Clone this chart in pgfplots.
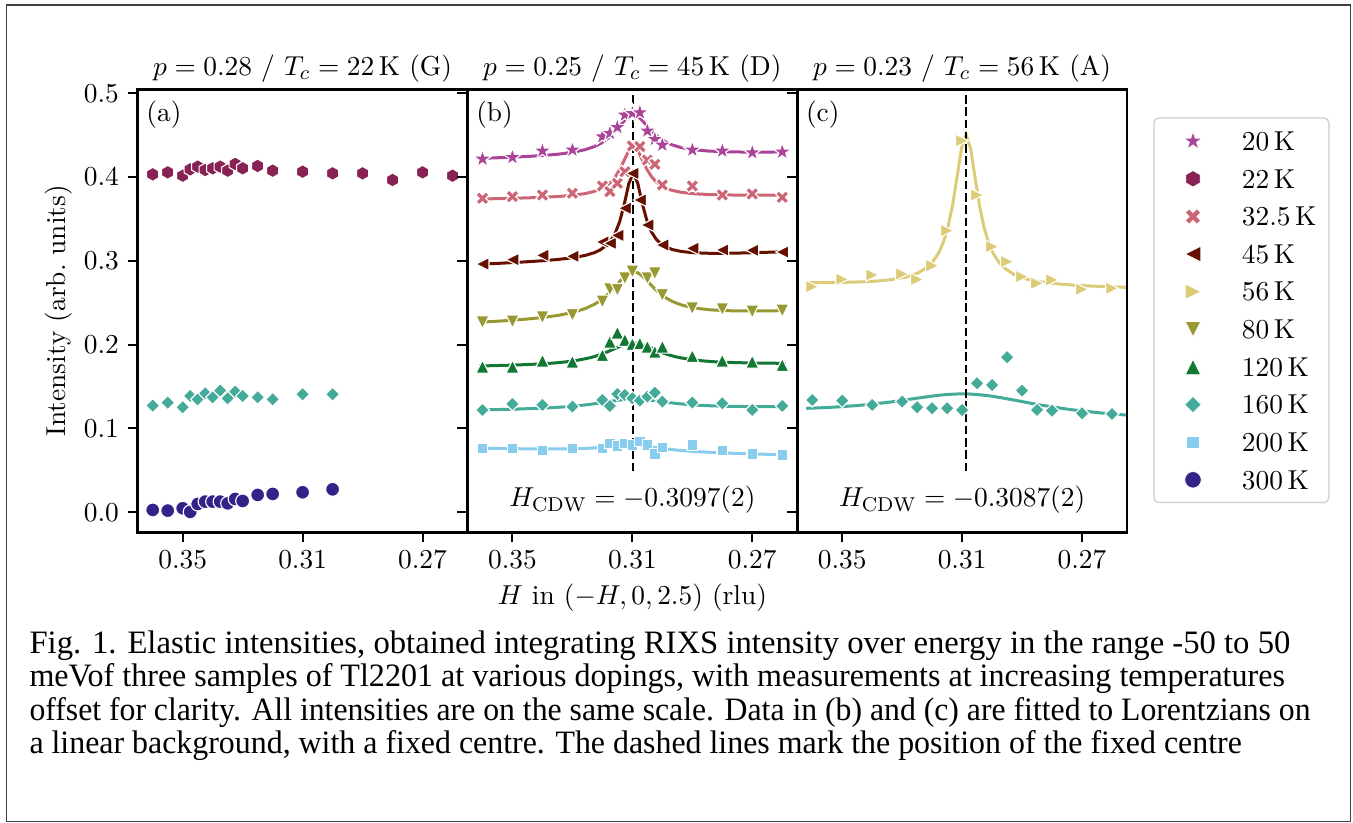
\documentclass[border=0pt]{standalone}
\usepackage{fontspec}
\usepackage{graphicx}
\usepackage{pgfplots}
\pgfplotsset{compat=1.18}
\newfontfamily\capfont{Liberation Serif}
\newcommand\ff{\fontsize{10.95}{13.2}\selectfont}
\definecolor{c20}{HTML}{AA4499}
\definecolor{c22}{HTML}{882255}
\definecolor{c32}{HTML}{CC6677}
\definecolor{c45}{HTML}{661100}
\definecolor{c56}{HTML}{DDCC77}
\definecolor{c80}{HTML}{999933}
\definecolor{c120}{HTML}{117733}
\definecolor{c160}{HTML}{44AA99}
\definecolor{c200}{HTML}{88CCEE}
\definecolor{c300}{HTML}{332288}
\pgfdeclareplotmark{mstar}{%
 \pgfpathmoveto{\pgfqpoint{0pt}{\pgfplotmarksize}}%
 \pgfpathlineto{\pgfqpoint{-0.2245\pgfplotmarksize}{0.309\pgfplotmarksize}}%
 \pgfpathlineto{\pgfqpoint{-0.9511\pgfplotmarksize}{0.309\pgfplotmarksize}}%
 \pgfpathlineto{\pgfqpoint{-0.3633\pgfplotmarksize}{-0.118\pgfplotmarksize}}%
 \pgfpathlineto{\pgfqpoint{-0.5878\pgfplotmarksize}{-0.809\pgfplotmarksize}}%
 \pgfpathlineto{\pgfqpoint{0pt}{-0.382\pgfplotmarksize}}%
 \pgfpathlineto{\pgfqpoint{0.5878\pgfplotmarksize}{-0.809\pgfplotmarksize}}%
 \pgfpathlineto{\pgfqpoint{0.3633\pgfplotmarksize}{-0.118\pgfplotmarksize}}%
 \pgfpathlineto{\pgfqpoint{0.9511\pgfplotmarksize}{0.309\pgfplotmarksize}}%
 \pgfpathlineto{\pgfqpoint{0.2245\pgfplotmarksize}{0.309\pgfplotmarksize}}%
 \pgfpathclose\pgfusepathqfillstroke}
\pgfdeclareplotmark{mhex}{%
 \pgfpathmoveto{\pgfqpoint{0pt}{\pgfplotmarksize}}%
 \pgfpathlineto{\pgfqpoint{-0.866\pgfplotmarksize}{0.5\pgfplotmarksize}}%
 \pgfpathlineto{\pgfqpoint{-0.866\pgfplotmarksize}{-0.5\pgfplotmarksize}}%
 \pgfpathlineto{\pgfqpoint{0pt}{-\pgfplotmarksize}}%
 \pgfpathlineto{\pgfqpoint{0.866\pgfplotmarksize}{-0.5\pgfplotmarksize}}%
 \pgfpathlineto{\pgfqpoint{0.866\pgfplotmarksize}{0.5\pgfplotmarksize}}%
 \pgfpathclose\pgfusepathqfillstroke}
\pgfdeclareplotmark{mxx}{%
 \pgfpathmoveto{\pgfqpoint{0.4714\pgfplotmarksize}{-0.9428\pgfplotmarksize}}%
 \pgfpathlineto{\pgfqpoint{0.9428\pgfplotmarksize}{-0.4714\pgfplotmarksize}}%
 \pgfpathlineto{\pgfqpoint{0.4714\pgfplotmarksize}{0pt}}%
 \pgfpathlineto{\pgfqpoint{0.9428\pgfplotmarksize}{0.4714\pgfplotmarksize}}%
 \pgfpathlineto{\pgfqpoint{0.4714\pgfplotmarksize}{0.9428\pgfplotmarksize}}%
 \pgfpathlineto{\pgfqpoint{0pt}{0.4714\pgfplotmarksize}}%
 \pgfpathlineto{\pgfqpoint{-0.4714\pgfplotmarksize}{0.9428\pgfplotmarksize}}%
 \pgfpathlineto{\pgfqpoint{-0.9428\pgfplotmarksize}{0.4714\pgfplotmarksize}}%
 \pgfpathlineto{\pgfqpoint{-0.4714\pgfplotmarksize}{0pt}}%
 \pgfpathlineto{\pgfqpoint{-0.9428\pgfplotmarksize}{-0.4714\pgfplotmarksize}}%
 \pgfpathlineto{\pgfqpoint{-0.4714\pgfplotmarksize}{-0.9428\pgfplotmarksize}}%
 \pgfpathlineto{\pgfqpoint{0pt}{-0.4714\pgfplotmarksize}}%
 \pgfpathclose\pgfusepathqfillstroke}
\pgfdeclareplotmark{mdia}{%
 \pgfpathmoveto{\pgfqpoint{0pt}{\pgfplotmarksize}}%
 \pgfpathlineto{\pgfqpoint{-\pgfplotmarksize}{0pt}}%
 \pgfpathlineto{\pgfqpoint{0pt}{-\pgfplotmarksize}}%
 \pgfpathlineto{\pgfqpoint{\pgfplotmarksize}{0pt}}%
 \pgfpathclose\pgfusepathqfillstroke}
\pgfdeclareplotmark{mtl}{%
 \pgfpathmoveto{\pgfqpoint{-\pgfplotmarksize}{0pt}}%
 \pgfpathlineto{\pgfqpoint{\pgfplotmarksize}{-\pgfplotmarksize}}%
 \pgfpathlineto{\pgfqpoint{\pgfplotmarksize}{\pgfplotmarksize}}%
 \pgfpathclose\pgfusepathqfillstroke}
\pgfdeclareplotmark{mtr}{%
 \pgfpathmoveto{\pgfqpoint{\pgfplotmarksize}{0pt}}%
 \pgfpathlineto{\pgfqpoint{-\pgfplotmarksize}{-\pgfplotmarksize}}%
 \pgfpathlineto{\pgfqpoint{-\pgfplotmarksize}{\pgfplotmarksize}}%
 \pgfpathclose\pgfusepathqfillstroke}
\pgfdeclareplotmark{mtu}{%
 \pgfpathmoveto{\pgfqpoint{0pt}{\pgfplotmarksize}}%
 \pgfpathlineto{\pgfqpoint{-\pgfplotmarksize}{-\pgfplotmarksize}}%
 \pgfpathlineto{\pgfqpoint{\pgfplotmarksize}{-\pgfplotmarksize}}%
 \pgfpathclose\pgfusepathqfillstroke}
\pgfdeclareplotmark{mtd}{%
 \pgfpathmoveto{\pgfqpoint{0pt}{-\pgfplotmarksize}}%
 \pgfpathlineto{\pgfqpoint{-\pgfplotmarksize}{\pgfplotmarksize}}%
 \pgfpathlineto{\pgfqpoint{\pgfplotmarksize}{\pgfplotmarksize}}%
 \pgfpathclose\pgfusepathqfillstroke}
\pgfplotsset{
  common/.style={scale only axis, width=131.9pt, height=177.2pt,
    xmin=0.255, xmax=0.365, x dir=reverse, ymin=-0.0239, ymax=0.5048,
    xtick={0.35,0.31,0.27}, ytick={0,0.1,0.2,0.3,0.4,0.5},
    tick align=outside, xtick pos=left, ytick pos=left,
    major tick length=4pt, every tick/.style={black, line width=0.8pt},
    axis line style={line width=1pt},
    tick label style={font=\ff}, label style={font=\ff},
    title style={font=\ff, anchor=base, yshift=-0.3pt},
    xticklabel style={/pgf/number format/.cd, fixed, precision=2}},
  mk/.style n args={3}{only marks, mark=#1, mark size=#2,
    mark options={fill=#3, draw=white, line width=0.45pt, solid}},
  fit/.style={#1, line width=1.2pt, no marks},
}
\begin{document}
\begin{tikzpicture}
\path[use as bounding box] (0,0) rectangle (541.2pt,-329.2pt);
\fill[white] (0,0) rectangle (541.2pt,-329.2pt);
\draw[black!75, line width=0.55pt] (2.7pt,-2pt) rectangle (540.3pt,-328.7pt);

% ---------- panel (a)
\begin{axis}[common, at={(55.1pt,-35.72pt)}, anchor=north west,
  title={$p = 0.28$ / $T_c = 22\,\mathrm{K}$ (G)},
  ylabel={Intensity (arb.\ units)},
  ylabel style={at={(axis description cs:-0.239,0.5)}, anchor=center},
  yticklabel style={/pgf/number format/.cd, fixed, fixed zerofill, precision=1}]
\addplot[mk={mhex}{2.8pt}{c22}] coordinates {(0.36,0.4033) (0.355,0.4057) (0.35,0.4017) (0.3475,0.4093) (0.345,0.4125) (0.3425,0.4085) (0.34,0.4105) (0.3375,0.4125) (0.335,0.4077) (0.3325,0.4157) (0.33,0.4105) (0.325,0.4133) (0.32,0.4077) (0.31,0.4065) (0.30,0.4045) (0.29,0.4045) (0.28,0.3966) (0.27,0.4057) (0.26,0.4017)};
\addplot[mk={mdia}{2.8pt}{c160}] coordinates {(0.36,0.1273) (0.355,0.1309) (0.35,0.1253) (0.3475,0.1388) (0.345,0.1348) (0.3425,0.142) (0.34,0.1372) (0.3375,0.1452) (0.335,0.136) (0.3325,0.144) (0.33,0.1388) (0.325,0.1372) (0.32,0.1348) (0.31,0.1408) (0.30,0.1408)};
\addplot[mk={*}{2.8pt}{c300}] coordinates {(0.36,0.0028) (0.355,0.002) (0.35,0.0048) (0.3475,0.0004) (0.345,0.0099) (0.3425,0.0127) (0.34,0.0127) (0.3375,0.0127) (0.335,0.0107) (0.3325,0.0159) (0.33,0.0135) (0.325,0.0207) (0.32,0.0219) (0.31,0.0239) (0.30,0.0274)};
\node[font=\ff, anchor=north west, inner sep=0pt, xshift=3.3pt, yshift=-4.3pt] at (axis description cs:0,1) {(a)};
\end{axis}

% ---------- panel (b)
\begin{axis}[common, at={(187.0pt,-35.72pt)}, anchor=north west,
  title={$p = 0.25$ / $T_c = 45\,\mathrm{K}$ (D)},
  yticklabels={},
  xlabel={$H$ in $(-H, 0, 2.5)$ (rlu)},
  xlabel style={at={(axis description cs:0.5,0)}, anchor=base, yshift=-28.7pt}]
% fits
\addplot[fit=c20] coordinates {(0.361,0.42236) (0.3547,0.42312) (0.3497,0.42384) (0.3447,0.42471) (0.3397,0.42582) (0.3347,0.42736) (0.3297,0.42973) (0.3257,0.43281) (0.3227,0.43646) (0.3207,0.43992) (0.3187,0.4446) (0.3172,0.44913) (0.3157,0.45463) (0.3142,0.46089) (0.3127,0.46721) (0.3112,0.4722) (0.3097,0.4742) (0.3082,0.47242) (0.3067,0.46767) (0.3052,0.46157) (0.3037,0.45553) (0.3022,0.45027) (0.3007,0.44596) (0.2987,0.44158) (0.2967,0.43842) (0.2937,0.43523) (0.2897,0.43275) (0.2847,0.43114) (0.2797,0.43035) (0.2747,0.42999) (0.2697,0.42988) (0.2647,0.42992) (0.259,0.43008)};
\addplot[fit=c32] coordinates {(0.361,0.37386) (0.3547,0.37433) (0.3497,0.37476) (0.3447,0.37528) (0.3397,0.37594) (0.3347,0.37688) (0.3297,0.37835) (0.3257,0.38038) (0.3227,0.38295) (0.3207,0.38563) (0.3187,0.38967) (0.3172,0.39412) (0.3157,0.40042) (0.3142,0.40919) (0.3127,0.42041) (0.3112,0.43159) (0.3097,0.4367) (0.3082,0.43173) (0.3067,0.42069) (0.3052,0.40961) (0.3037,0.40098) (0.3022,0.39482) (0.3007,0.39051) (0.2987,0.38667) (0.2967,0.38417) (0.2937,0.38188) (0.2897,0.38023) (0.2847,0.37923) (0.2797,0.37876) (0.2747,0.37857) (0.2697,0.37852) (0.2647,0.37856) (0.259,0.37867)};
\addplot[fit=c45] coordinates {(0.361,0.29598) (0.3547,0.29708) (0.3497,0.29803) (0.3447,0.29907) (0.3397,0.30027) (0.3347,0.30178) (0.3297,0.30388) (0.3257,0.30655) (0.3227,0.30981) (0.3207,0.31319) (0.3187,0.3184) (0.3172,0.32439) (0.3157,0.3334) (0.3142,0.34726) (0.3127,0.36774) (0.3112,0.3921) (0.3097,0.4049) (0.3082,0.39254) (0.3067,0.36862) (0.3052,0.34858) (0.3037,0.33516) (0.3022,0.32659) (0.3007,0.32104) (0.2987,0.31643) (0.2967,0.31363) (0.2937,0.31125) (0.2897,0.30976) (0.2847,0.30913) (0.2797,0.30909) (0.2747,0.30936) (0.2697,0.30979) (0.2647,0.31032) (0.259,0.31098)};
\addplot[fit=c80] coordinates {(0.361,0.22676) (0.3547,0.2281) (0.3497,0.22931) (0.3447,0.23075) (0.3397,0.23256) (0.3347,0.23501) (0.3297,0.23864) (0.3257,0.24314) (0.3227,0.24815) (0.3207,0.25265) (0.3187,0.25838) (0.3172,0.26354) (0.3157,0.26936) (0.3142,0.27549) (0.3127,0.28119) (0.3112,0.28541) (0.3097,0.2871) (0.3082,0.28581) (0.3067,0.28201) (0.3052,0.27671) (0.3037,0.271) (0.3022,0.26558) (0.3007,0.26082) (0.2987,0.25565) (0.2967,0.25169) (0.2937,0.2475) (0.2897,0.24408) (0.2847,0.24181) (0.2797,0.24072) (0.2747,0.24027) (0.2697,0.24019) (0.2647,0.24034) (0.259,0.24068)};
\addplot[fit=c120, smooth] coordinates {(0.361,0.1746) (0.3497,0.17566) (0.3397,0.17727) (0.3347,0.17861) (0.3297,0.18065) (0.3247,0.18398) (0.3222,0.18639) (0.3197,0.18947) (0.3172,0.1932) (0.3147,0.19723) (0.3122,0.20059) (0.3097,0.202) (0.3072,0.20075) (0.3047,0.19754) (0.3022,0.19366) (0.2997,0.19009) (0.2972,0.18717) (0.2947,0.18491) (0.2897,0.18189) (0.2847,0.18016) (0.2797,0.17913) (0.2697,0.17814) (0.259,0.17778)};
\addplot[fit=c160, smooth] coordinates {(0.361,0.1221) (0.3497,0.12306) (0.3397,0.12436) (0.3347,0.12533) (0.3297,0.12666) (0.3247,0.12853) (0.3197,0.13103) (0.3147,0.13371) (0.3097,0.1351) (0.3047,0.13409) (0.2997,0.13179) (0.2947,0.12967) (0.2897,0.12818) (0.2847,0.12723) (0.2797,0.12664) (0.2697,0.1261) (0.259,0.126)};
\addplot[fit=c200, smooth] coordinates {(0.361,0.07654) (0.3497,0.0759) (0.3397,0.07555) (0.3347,0.07556) (0.3297,0.07579) (0.3247,0.0764) (0.3197,0.0776) (0.3147,0.07931) (0.3097,0.0801) (0.3047,0.07853) (0.2997,0.07604) (0.2947,0.07404) (0.2897,0.07265) (0.2847,0.07164) (0.2797,0.07085) (0.2697,0.06962) (0.259,0.06855)};
% data
\addplot[mk={mstar}{3.8pt}{c20}] coordinates {(0.36,0.4216) (0.35,0.4236) (0.34,0.4312) (0.33,0.4324) (0.32,0.4483) (0.3175,0.4523) (0.315,0.4594) (0.3125,0.4741) (0.31,0.4761) (0.3075,0.4769) (0.305,0.4551) (0.3025,0.4451) (0.30,0.4383) (0.29,0.4324) (0.28,0.4312) (0.27,0.4292) (0.26,0.4300)};
\addplot[mk={mxx}{2.8pt}{c32}] coordinates {(0.36,0.3747) (0.35,0.3767) (0.34,0.3787) (0.33,0.3807) (0.32,0.3894) (0.3175,0.3827) (0.315,0.3926) (0.3125,0.4065) (0.31,0.4372) (0.3075,0.4364) (0.305,0.4204) (0.3025,0.4153) (0.30,0.3906) (0.29,0.3894) (0.28,0.3787) (0.27,0.3799) (0.26,0.3759)};
\addplot[mk={mtl}{2.6pt}{c45}] coordinates {(0.36,0.2963) (0.35,0.3015) (0.34,0.3067) (0.33,0.3055) (0.32,0.3226) (0.3175,0.321) (0.315,0.3305) (0.3125,0.3628) (0.31,0.4045) (0.3075,0.3727) (0.305,0.3429) (0.30,0.319) (0.29,0.315) (0.28,0.313) (0.27,0.3126) (0.26,0.3106)};
\addplot[mk={mtd}{2.6pt}{c80}] coordinates {(0.36,0.2267) (0.35,0.2275) (0.34,0.2327) (0.33,0.2355) (0.32,0.2514) (0.3175,0.2661) (0.315,0.2653) (0.3125,0.2792) (0.31,0.2872) (0.305,0.2792) (0.3025,0.2852) (0.30,0.2593) (0.29,0.2434) (0.28,0.2422) (0.27,0.2395) (0.26,0.2407)};
\addplot[mk={mtu}{2.6pt}{c120}] coordinates {(0.36,0.1738) (0.35,0.1738) (0.34,0.181) (0.33,0.1798) (0.32,0.1877) (0.3175,0.2037) (0.315,0.2144) (0.3125,0.2057) (0.31,0.2009) (0.3075,0.2017) (0.305,0.1977) (0.3025,0.1917) (0.30,0.1977) (0.29,0.1865) (0.28,0.181) (0.27,0.1798) (0.26,0.1758)};
\addplot[mk={mdia}{2.8pt}{c160}] coordinates {(0.36,0.1221) (0.35,0.1293) (0.34,0.1281) (0.33,0.1261) (0.32,0.134) (0.3175,0.1269) (0.315,0.1412) (0.3125,0.14) (0.31,0.136) (0.3075,0.1333) (0.305,0.138) (0.3025,0.1428) (0.30,0.1321) (0.29,0.1309) (0.28,0.1301) (0.27,0.1221) (0.26,0.1269)};
\addplot[mk={square*}{2.1pt}{c200}] coordinates {(0.36,0.0764) (0.35,0.0764) (0.34,0.0736) (0.33,0.0764) (0.32,0.0764) (0.3175,0.0823) (0.315,0.0792) (0.3125,0.0823) (0.31,0.0804) (0.3075,0.0843) (0.305,0.0804) (0.3025,0.0696) (0.30,0.0776) (0.29,0.0804) (0.28,0.0736) (0.27,0.0696) (0.26,0.0684)};
\addplot[black, line width=0.9pt, dash pattern=on 3.4pt off 1.5pt] coordinates {(0.3097,0.049) (0.3097,0.5048)};
\node[font=\ff, anchor=north west, inner sep=0pt, xshift=3.3pt, yshift=-4.3pt] at (axis description cs:0,1) {(b)};
\node[font=\ff, anchor=base, inner sep=0pt, yshift=10.24pt] at (axis description cs:0.5,0) {$H_{\mathrm{CDW}} = -0.3097(2)$};
\end{axis}

% ---------- panel (c)
\begin{axis}[common, at={(318.9pt,-35.72pt)}, anchor=north west,
  title={$p = 0.23$ / $T_c = 56\,\mathrm{K}$ (A)},
  yticklabels={},
  legend image code/.code={\path (-10.4pt,0pt) (4pt,0pt); \draw[sharp corners, #1, only marks] plot coordinates {(0pt,0pt)};},
  legend cell align=left,
  legend style={at={(1.0796,0.9368)}, anchor=north west, draw=black!20, line width=0.5pt,
    rounded corners=2pt, fill=white, inner xsep=5pt, inner ysep=5.4pt, row sep=7.6pt,
    font=\ff, nodes={inner sep=0pt, text height=7.45pt, text depth=0pt},
    /tikz/every odd column/.append style={column sep=15.3pt}}]
\addplot[fit=c56, forget plot] coordinates {(0.362,0.27406) (0.3537,0.2742) (0.3487,0.27447) (0.3437,0.27498) (0.3387,0.2759) (0.3337,0.27754) (0.3287,0.28071) (0.3247,0.28558) (0.3217,0.2922) (0.3197,0.29934) (0.3177,0.31035) (0.3162,0.32278) (0.3147,0.34075) (0.3132,0.36637) (0.3117,0.40012) (0.3102,0.43478) (0.3087,0.4508) (0.3072,0.43462) (0.3057,0.3998) (0.3042,0.36589) (0.3027,0.34012) (0.3012,0.322) (0.2997,0.30941) (0.2977,0.29818) (0.2957,0.29084) (0.2927,0.2839) (0.2887,0.27861) (0.2837,0.27492) (0.2787,0.27275) (0.2737,0.2713) (0.2687,0.27027) (0.2637,0.26948) (0.2554,0.26846)};
\addplot[fit=c160, smooth, forget plot] coordinates {(0.362,0.12404) (0.3537,0.1253) (0.3437,0.12779) (0.3337,0.1317) (0.3237,0.13683) (0.3162,0.14021) (0.3087,0.1413) (0.3012,0.13909) (0.2937,0.13458) (0.2837,0.12795) (0.2737,0.12254) (0.2637,0.11855) (0.2554,0.11604)};
\addplot[mk={mtr}{2.6pt}{c56}, forget plot] coordinates {(0.36,0.2693) (0.35,0.278) (0.34,0.2832) (0.33,0.2844) (0.325,0.278) (0.32,0.2943) (0.315,0.3361) (0.31,0.4435) (0.305,0.3787) (0.30,0.317) (0.295,0.2991) (0.29,0.2812) (0.285,0.2733) (0.28,0.2772) (0.27,0.2661) (0.26,0.2673)};
\addplot[mk={mdia}{2.8pt}{c160}, forget plot] coordinates {(0.36,0.134) (0.35,0.1333) (0.34,0.1281) (0.33,0.1321) (0.325,0.1253) (0.32,0.1241) (0.315,0.1241) (0.31,0.1221) (0.305,0.1539) (0.30,0.1519) (0.295,0.185) (0.29,0.1452) (0.285,0.1221) (0.28,0.1213) (0.27,0.1181) (0.26,0.1173)};
\addplot[black, line width=0.9pt, dash pattern=on 3.4pt off 1.5pt, forget plot] coordinates {(0.3087,0.049) (0.3087,0.5048)};
\node[font=\ff, anchor=north west, inner sep=0pt, xshift=3.3pt, yshift=-4.3pt] at (axis description cs:0,1) {(c)};
\node[font=\ff, anchor=base, inner sep=0pt, yshift=10.24pt] at (axis description cs:0.5,0) {$H_{\mathrm{CDW}} = -0.3087(2)$};
\addlegendimage{mark=mstar, mark size=3.9pt, mark options={fill=c20, draw=white, line width=0.3pt}}
\addlegendentry{$20\,\mathrm{K}$}
\addlegendimage{mark=mhex, mark size=3.3pt, mark options={fill=c22, draw=white, line width=0.3pt}}
\addlegendentry{$22\,\mathrm{K}$}
\addlegendimage{mark=mxx, mark size=3.3pt, mark options={fill=c32, draw=white, line width=0.3pt}}
\addlegendentry{$32.5\,\mathrm{K}$}
\addlegendimage{mark=mtl, mark size=3.1pt, mark options={fill=c45, draw=white, line width=0.3pt}}
\addlegendentry{$45\,\mathrm{K}$}
\addlegendimage{mark=mtr, mark size=3.1pt, mark options={fill=c56, draw=white, line width=0.3pt}}
\addlegendentry{$56\,\mathrm{K}$}
\addlegendimage{mark=mtd, mark size=3.1pt, mark options={fill=c80, draw=white, line width=0.3pt}}
\addlegendentry{$80\,\mathrm{K}$}
\addlegendimage{mark=mtu, mark size=3.1pt, mark options={fill=c120, draw=white, line width=0.3pt}}
\addlegendentry{$120\,\mathrm{K}$}
\addlegendimage{mark=mdia, mark size=3.3pt, mark options={fill=c160, draw=white, line width=0.3pt}}
\addlegendentry{$160\,\mathrm{K}$}
\addlegendimage{mark=square*, mark size=2.5pt, mark options={fill=c200, draw=white, line width=0.3pt}}
\addlegendentry{$200\,\mathrm{K}$}
\addlegendimage{mark=*, mark size=3.3pt, mark options={fill=c300, draw=white, line width=0.3pt}}
\addlegendentry{$300\,\mathrm{K}$}
\end{axis}

% ---------- caption
\begin{scope}[every node/.style={anchor=base west, inner sep=0pt, font=\capfont\fontsize{13.07}{14}\selectfont}]
\node at (11.6pt,-261.3pt) {Fig. 1. Elastic intensities, obtained integrating RIXS intensity over energy in the range -50 to 50};
\node at (11.6pt,-274.7pt) {\scalebox{0.981}[1]{meVof three samples of Tl2201 at various dopings, with measurements at increasing temperatures}};
\node at (11.6pt,-288.0pt) {\scalebox{0.971}[1]{offset for clarity. All intensities are on the same scale. Data in (b) and (c) are fitted to Lorentzians on}};
\node at (11.6pt,-301.3pt) {\scalebox{0.976}[1]{a linear background, with a fixed centre. The dashed lines mark the position of the fixed centre}};
\end{scope}
\end{tikzpicture}
\end{document}
